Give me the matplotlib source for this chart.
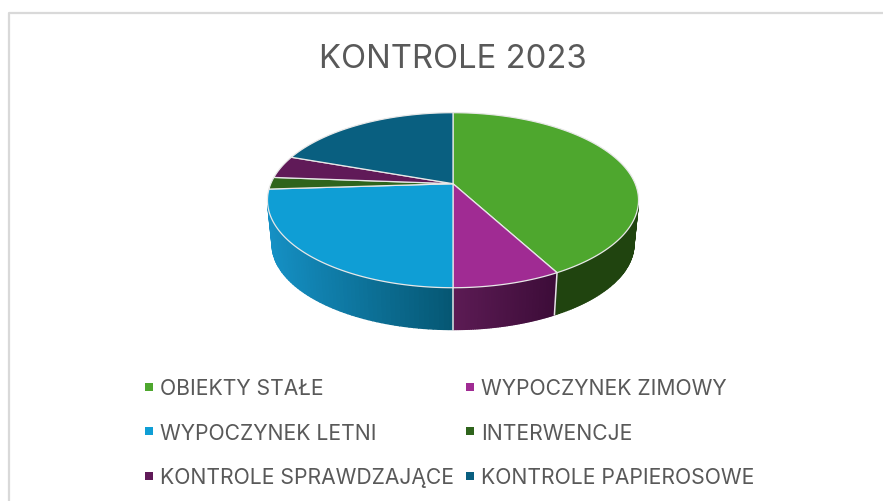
import numpy as np
import matplotlib
matplotlib.use("Agg")
import matplotlib.pyplot as plt
from matplotlib.lines import Line2D

title = "KONTROLE 2023"
categories = ["OBIEKTY STAŁE", "WYPOCZYNEK ZIMOWY", "WYPOCZYNEK LETNI",
              "INTERWENCJE", "KONTROLE SPRAWDZAJĄCE", "KONTROLE PAPIEROSOWE"]
values = [42.1, 7.9, 24.0, 2.2, 4.2, 19.6]
colors = ["#4EA72E", "#A02B93", "#0F9ED5", "#2F641C", "#601A58", "#095F80"]
# side wall colour at the left / right screen end of each visible wall
side_left = {0: "#20440F", 1: "#5C1B54", 2: "#1590C4"}
side_right = {0: "#20440F", 1: "#3C0C38", 2: "#055672"}

W, H = 883, 502
CX, CY = 453.0, 184.7
K, KY, P = 182.2, 84.4, 0.1886
DEPTH_Y, SHRINK, TOP_MID = 44.0, 0.975, 200.7

plt.rcParams["font.family"] = ["Inter", "DejaVu Sans"]
fig = plt.figure(figsize=(W / 100, H / 100), dpi=100, facecolor="white")
ax = fig.add_axes([0, 0, 1, 1])
ax.set_xlim(0, W)
ax.set_ylim(H, 0)
ax.axis("off")


def top(phi):
    u, v = np.sin(phi), -np.cos(phi)
    d = 1 - P * v
    return CX + K * u / d, CY + KY * v / d


def bottom(phi):
    x, y = top(phi)
    return CX + SHRINK * (x - CX), TOP_MID + DEPTH_Y + SHRINK * (y - TOP_MID)


def rgb(c):
    return np.array(matplotlib.colors.to_rgb(c))


# chart frame
ax.plot([8.5, 8.5, W + 2], [H + 2, 13.5, 13.5], color="#D9D9D9", lw=1.6, zorder=1, clip_on=False)

edges = np.radians(np.concatenate([[0], np.cumsum(values)]) / sum(values) * 360)

# side walls (only the front part of the pie is visible)
for i in [0, 1, 2]:
    a0, a1 = edges[i], edges[i + 1]
    a0 = max(a0, np.radians(104))
    a1 = min(a1, np.radians(256))
    ph = np.linspace(a0, a1, 60)
    xs = [top(p)[0] for p in ph]
    xmin, xmax = min(xs), max(xs)
    for p0, p1 in zip(ph[:-1], ph[1:]):
        x0, y0 = top(p0)
        x1, y1 = top(p1)
        x2, y2 = bottom(p1)
        x3, y3 = bottom(p0)
        t = ((x0 + x1) / 2 - xmin) / (xmax - xmin)
        c = (1 - t) * rgb(side_left[i]) + t * rgb(side_right[i])
        ax.fill([x0, x1, x2, x3], [y0, y1, y2, y3], color=c, lw=1.0, zorder=2)

# wall separators
for a in edges[1:3]:
    ax.plot([top(a)[0], bottom(a)[0]], [top(a)[1], bottom(a)[1]],
            color="#E4E4E4", lw=1.1, zorder=3)

# top face
for i, (a0, a1) in enumerate(zip(edges[:-1], edges[1:])):
    ph = np.linspace(a0, a1, 200)
    x, y = top(ph)
    ax.fill(np.r_[CX, x], np.r_[CY, y], facecolor=colors[i], edgecolor="#E8E8E8",
            lw=0.9, joinstyle="round", zorder=4)

ax.text(453, 59, title, ha="center", va="center", fontsize=23.6, color="#595959", zorder=5)

# legend, listed column by column so that it reads row by row as in the chart
order = [0, 2, 4, 1, 3, 5]
handles = [Line2D([], [], ls="none", marker="s", ms=5.6, mew=0, color=colors[i], label=categories[i])
           for i in order]
fig.legend(handles=handles, ncols=2, frameon=False, loc="upper left",
           bbox_to_anchor=(138 / W, 1 - 379 / H), borderaxespad=0, borderpad=0,
           fontsize=15.2, labelcolor="#595959", labelspacing=1.17,
           handlelength=1.0, handletextpad=0.02, columnspacing=0.28)

fig.savefig("out.png", dpi=100, facecolor="white")
